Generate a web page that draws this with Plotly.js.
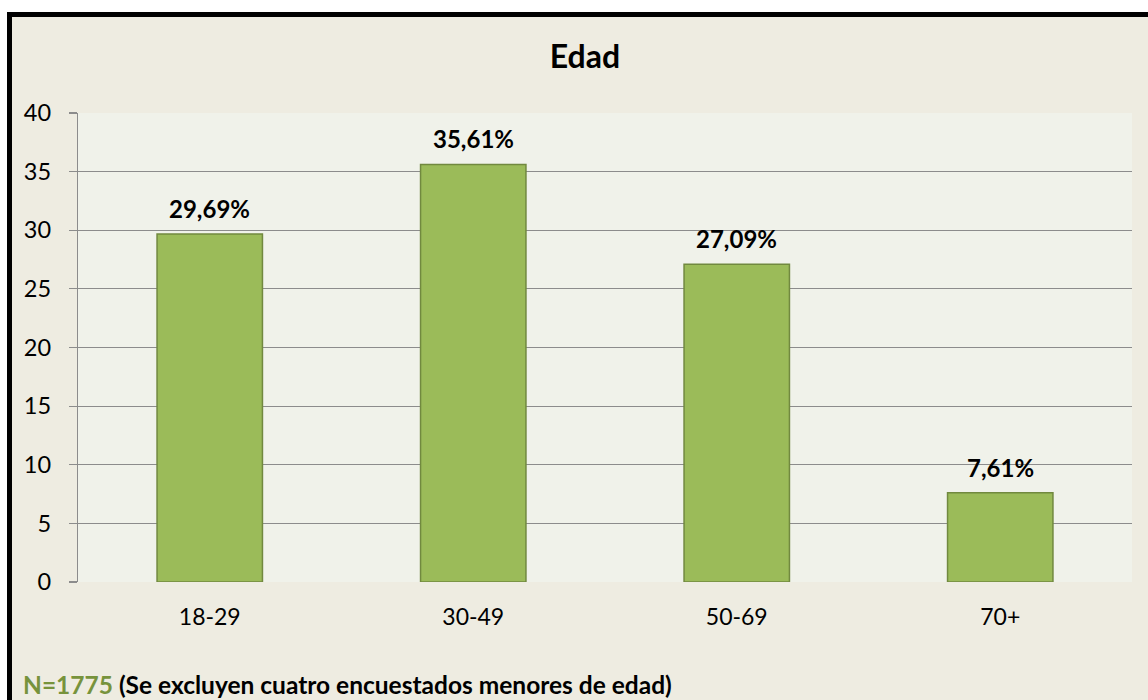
<!DOCTYPE html>
<html>
<head>
<meta charset="utf-8">
<script src="https://cdn.plot.ly/plotly-3.0.1.min.js"></script>
<style>
  html, body { margin:0; padding:0; background:#ffffff; width:1148px; height:700px; overflow:hidden; }
  #frame { position:absolute; left:7px; top:12px; width:1200px; height:760px; background:#EEECE1;
           border-left:5px solid #000; border-top:5px solid #000; }
  #chart { position:absolute; left:0; top:0; width:1148px; height:700px; }
</style>
</head>
<body>
<div id="frame"></div>
<div id="chart"></div>
<script>
const categories = ["18-29", "30-49", "50-69", "70+"];
const values = [29.69, 35.61, 27.09, 7.61];
const valueLabels = ["29,69%", "35,61%", "27,09%", "7,61%"];
const yTicks = [0, 5, 10, 15, 20, 25, 30, 35, 40];
const chartTitle = "Edad";
const noteN = "N=1775";
const noteRest = " (Se excluyen cuatro encuestados menores de edad)";

const W = 1148, H = 700;
const mL = 78, mR = 16, mT = 113, mB = 118;
const pw = W - mL - mR, ph = H - mT - mB;
const px2x = p => (p - mL) / pw;
const px2y = p => (H - mB - p) / ph;

const FONT = "Lato, 'Open Sans', sans-serif";

const trace = {
  type: "bar",
  x: categories,
  y: values,
  width: 0.4,
  marker: { color: "#9BBB59", line: { color: "#71893F", width: 1.5 } },
  hoverinfo: "skip"
};

const annotations = categories.map((c, i) => ({
  x: c, y: values[i], xref: "x", yref: "y",
  text: "<b>" + valueLabels[i] + "</b>",
  showarrow: false, xanchor: "center", yanchor: "bottom", yshift: 9,
  font: { family: FONT, size: 24, color: "#000000" }
}));

annotations.push({
  xref: "paper", yref: "paper",
  x: px2x(21), y: px2y(701), xanchor: "left", yanchor: "bottom",
  showarrow: false,
  text: "<b><span style='color:#77933C'>" + noteN + "</span>" + noteRest + "</b>",
  font: { family: FONT, size: 24.5, color: "#000000" }
});

const layout = {
  width: W, height: H,
  margin: { l: mL, r: mR, t: mT, b: mB, pad: 0 },
  paper_bgcolor: "rgba(0,0,0,0)",
  plot_bgcolor: "#F0F2EA",
  showlegend: false,
  title: {
    text: "<b>" + chartTitle + "</b>",
    xref: "container", x: 585 / W, xanchor: "center",
    yref: "container", y: 1 - 57 / H, yanchor: "middle",
    font: { family: FONT, size: 32, color: "#000000" }
  },
  xaxis: {
    type: "category",
    range: [-0.5, 3.5],
    showgrid: false,
    zeroline: false,
    showline: false,
    ticks: "",
    ticklabelstandoff: 19,
    tickfont: { family: FONT, size: 23, color: "#000000" },
    fixedrange: true
  },
  yaxis: {
    range: [0, 40],
    tickvals: yTicks,
    ticktext: yTicks.map(String),
    showgrid: true, gridcolor: "#8C8C8C", gridwidth: 1.2,
    zeroline: false,
    showline: true, linecolor: "#8C8C8C", linewidth: 1.2,
    ticks: "outside", ticklen: 8, tickcolor: "#8C8C8C", tickwidth: 1.2,
    ticklabelstandoff: 13,
    tickfont: { family: FONT, size: 23.5, color: "#000000" },
    fixedrange: true
  },
  annotations: annotations
};

Plotly.newPlot("chart", [trace], layout, { displayModeBar: false, staticPlot: true });
</script>
</body>
</html>
